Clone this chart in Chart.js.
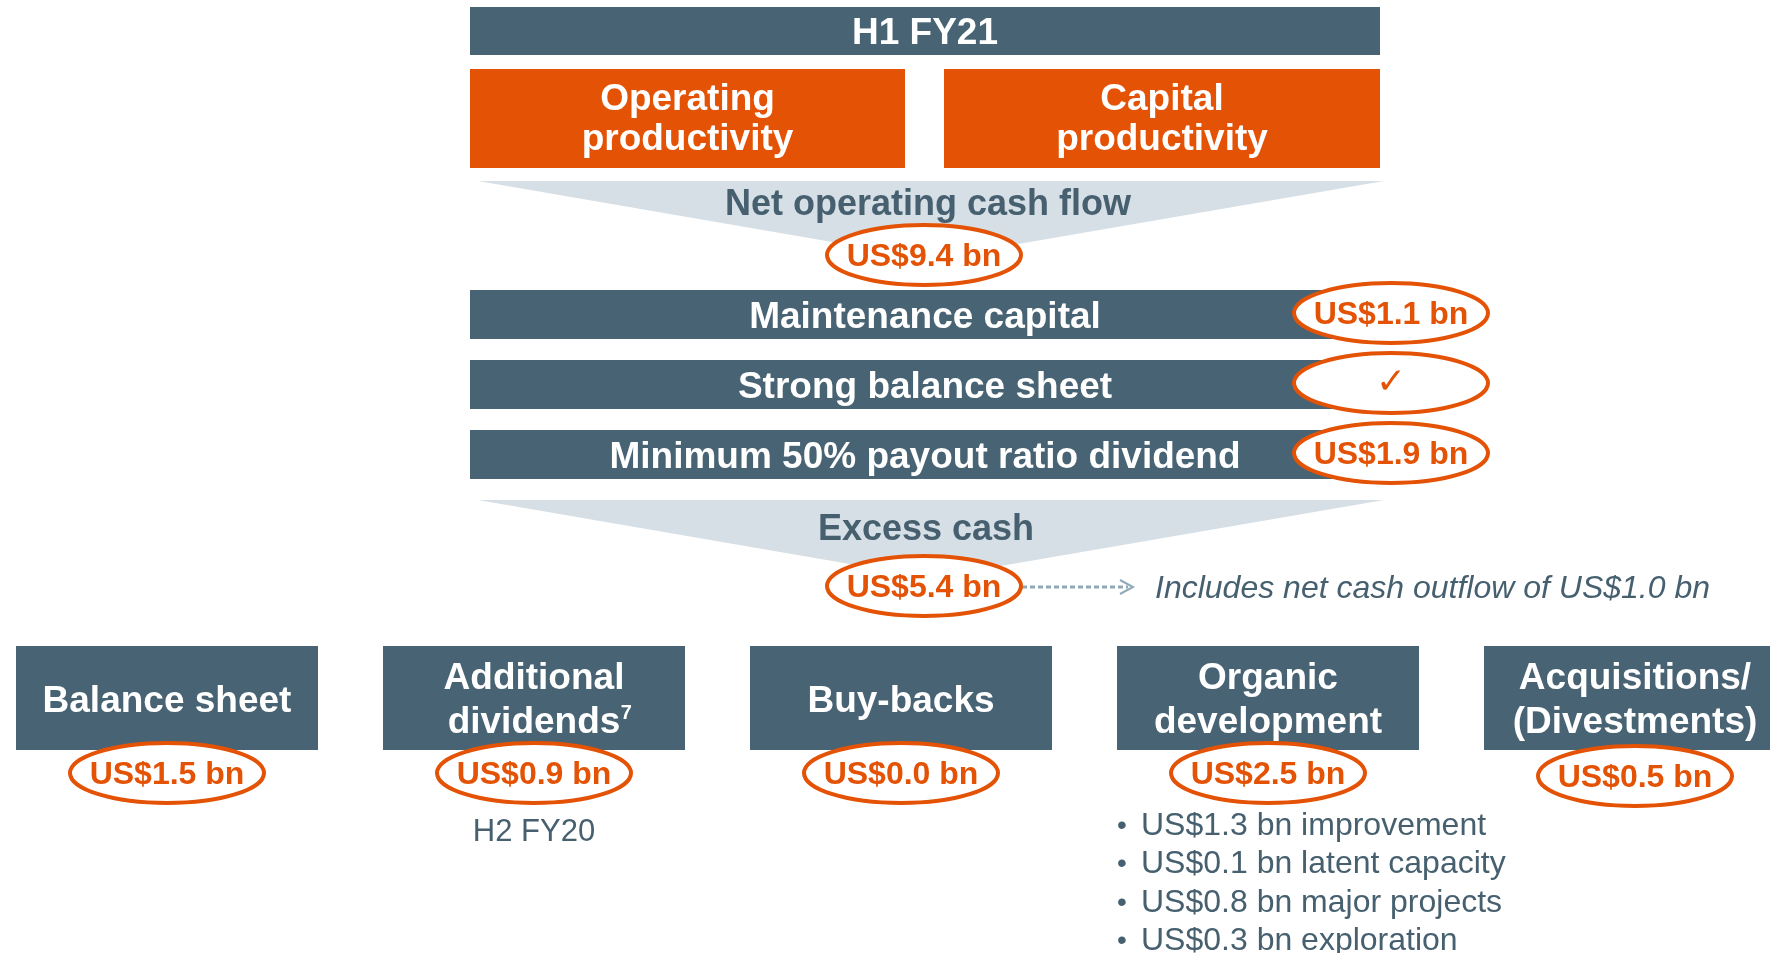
<!DOCTYPE html>
<html>
<head>
<meta charset="utf-8">
<title>H1 FY21 capital allocation</title>
<script src="https://cdn.jsdelivr.net/npm/chart.js@4.4.1/dist/chart.umd.min.js"></script>
<style>
  html, body { margin: 0; padding: 0; background: #fff; overflow: hidden; }
  canvas { display: block; }
</style>
</head>
<body>
<canvas id="flowChart" width="1770" height="953"></canvas>
<script>
// ---------- Data (US$ bn) ----------
const periodLabel = 'H1 FY21';
const driverLabels = [['Operating', 'productivity'], ['Capital', 'productivity']];
const flowLabels = ['Net operating cash flow', 'Excess cash'];
const flowValues = [9.4, 5.4];
const deductLabels = ['Maintenance capital', 'Strong balance sheet', 'Minimum 50% payout ratio dividend'];
const deductValues = [1.1, null, 1.9];           // null = tick only
const excessNote = 'Includes net cash outflow of US$1.0 bn';
const allocLabels = [['Balance sheet'], ['Additional', 'dividends'], ['Buy-backs'], ['Organic', 'development'], ['Acquisitions/', '(Divestments)']];
const allocFootnotes = ['', '7', '', '', ''];
const allocValues = [1.5, 0.9, 0.0, 2.5, 0.5];
const allocNotes = ['', 'H2 FY20', '', '', ''];
const organicItems = ['improvement', 'latent capacity', 'major projects', 'exploration'];
const organicValues = [1.3, 0.1, 0.8, 0.3];

// ---------- Styles ----------
const SLATE = '#486373';
const ORANGE = '#E35205';
const FUNNEL = '#D6DFE6';
const TEXT = '#47606F';
const FONT = '"Liberation Sans", Arial, sans-serif';

const fmt = (v) => 'US$' + v.toFixed(1) + ' bn';

// ---------- Diagram plugin: everything placed through the chart's x/y scales ----------
const diagramPlugin = {
  id: 'diagram',
  afterDraw(chart) {
    const ctx = chart.ctx;
    const sx = chart.scales.x, sy = chart.scales.y;
    const X = (v) => sx.getPixelForValue(v);
    const Y = (v) => sy.getPixelForValue(v);

    function rect(x0, y0, x1, y1, color) {
      ctx.fillStyle = color;
      ctx.fillRect(X(x0), Y(y0), X(x1) - X(x0), Y(y1) - Y(y0));
    }
    function text(str, x, y, font, color, align) {
      ctx.font = font;
      ctx.fillStyle = color;
      ctx.textAlign = align || 'center';
      ctx.textBaseline = 'middle';
      ctx.fillText(str, X(x), Y(y));
    }
    function funnel(x0, x1, yTop, yApex) {
      ctx.fillStyle = FUNNEL;
      ctx.beginPath();
      ctx.moveTo(X(x0), Y(yTop));
      ctx.lineTo(X(x1), Y(yTop));
      ctx.lineTo(X((x0 + x1) / 2), Y(yApex));
      ctx.closePath();
      ctx.fill();
    }
    function bubble(cx, cy, label) {
      ctx.beginPath();
      ctx.ellipse(X(cx), Y(cy), 97, 30, 0, 0, Math.PI * 2);
      ctx.fillStyle = '#fff';
      ctx.fill();
      ctx.lineWidth = 4;
      ctx.strokeStyle = ORANGE;
      ctx.stroke();
      if (label === '✓') {
        text('✓', cx, cy + 1, 'bold 36px "DejaVu Sans", sans-serif', ORANGE);
      } else {
        text(label, cx, cy + 2, 'bold 32px ' + FONT, ORANGE);
      }
    }

    const left = 470, right = 1380, mid = (left + right) / 2;

    // header
    rect(left, 7, right, 55, SLATE);
    text(periodLabel, mid, 34, 'bold 37px ' + FONT, '#fff');

    // productivity drivers
    const half = [[left, 905], [944, right]];
    driverLabels.forEach((lines, i) => {
      rect(half[i][0], 69, half[i][1], 168, ORANGE);
      const c = (half[i][0] + half[i][1]) / 2;
      lines.forEach((ln, j) => text(ln, c, 100 + j * 40, 'bold 37px ' + FONT, '#fff'));
    });

    // net operating cash flow
    funnel(478, 1384, 181, 259);
    text(flowLabels[0], mid + 3, 205, 'bold 36px ' + FONT, TEXT);
    bubble(mid - 1, 255, fmt(flowValues[0]));

    // deductions
    deductLabels.forEach((lab, i) => {
      const top = 290 + i * 70;
      rect(left, top, right, top + 49, SLATE);
      text(lab, mid, top + 28, 'bold 37px ' + FONT, '#fff');
      bubble(1391, top + 23, deductValues[i] === null ? '✓' : fmt(deductValues[i]));
    });

    // excess cash
    funnel(478, 1384, 500, 578);
    text(flowLabels[1], mid + 1, 530, 'bold 36px ' + FONT, TEXT);

    // dotted arrow + note
    ctx.save();
    ctx.strokeStyle = '#8FA9BA';
    ctx.lineWidth = 3;
    ctx.setLineDash([5, 3]);
    ctx.beginPath();
    ctx.moveTo(X(1022), Y(587));
    ctx.lineTo(X(1128), Y(587));
    ctx.stroke();
    ctx.setLineDash([]);
    ctx.lineWidth = 2;
    ctx.beginPath();
    ctx.moveTo(X(1120), Y(580));
    ctx.lineTo(X(1133), Y(587));
    ctx.lineTo(X(1120), Y(594));
    ctx.stroke();
    ctx.restore();
    text(excessNote, 1155, 589, 'italic 32px ' + FONT, TEXT, 'left');
    bubble(mid - 1, 586, fmt(flowValues[1]));

    // allocation boxes
    const pitch = 367, boxW = 302;
    allocLabels.forEach((lines, i) => {
      const x0 = 16 + i * pitch, c = x0 + boxW / 2;
      rect(x0, 646, x0 + boxW, 750, SLATE);
      const f = 'bold 37px ' + FONT;
      const y0 = lines.length === 1 ? 702 : 679;
      lines.forEach((ln, j) => {
        text(ln, c, y0 + j * 44, f, '#fff');
        if (j === lines.length - 1 && allocFootnotes[i]) {
          ctx.font = f;
          const w = ctx.measureText(ln).width;
          text(allocFootnotes[i], c + w / 2 + 6, y0 + j * 44 - 10, 'bold 20px ' + FONT, '#fff');
        }
      });
      if (allocNotes[i]) text(allocNotes[i], c, 832, '31px ' + FONT, TEXT);
      bubble(c, i === 4 ? 776 : 773, fmt(allocValues[i]));
    });

    // organic development breakdown
    organicItems.forEach((item, i) => {
      const yy = 826 + i * 38.5;
      text('•', 1122, yy, '28px ' + FONT, TEXT);
      text(fmt(organicValues[i]) + ' ' + item, 1141, yy, '32px ' + FONT, TEXT, 'left');
    });
  }
};

new Chart(document.getElementById('flowChart'), {
  type: 'scatter',
  data: { datasets: [{ data: [] }] },
  options: {
    responsive: false,
    animation: false,
    devicePixelRatio: 1,
    layout: { padding: 0 },
    plugins: { legend: { display: false }, tooltip: { enabled: false } },
    scales: {
      x: { type: 'linear', min: 0, max: 1770, display: false },
      y: { type: 'linear', min: 0, max: 953, reverse: true, display: false }
    }
  },
  plugins: [diagramPlugin]
});
</script>
</body>
</html>
